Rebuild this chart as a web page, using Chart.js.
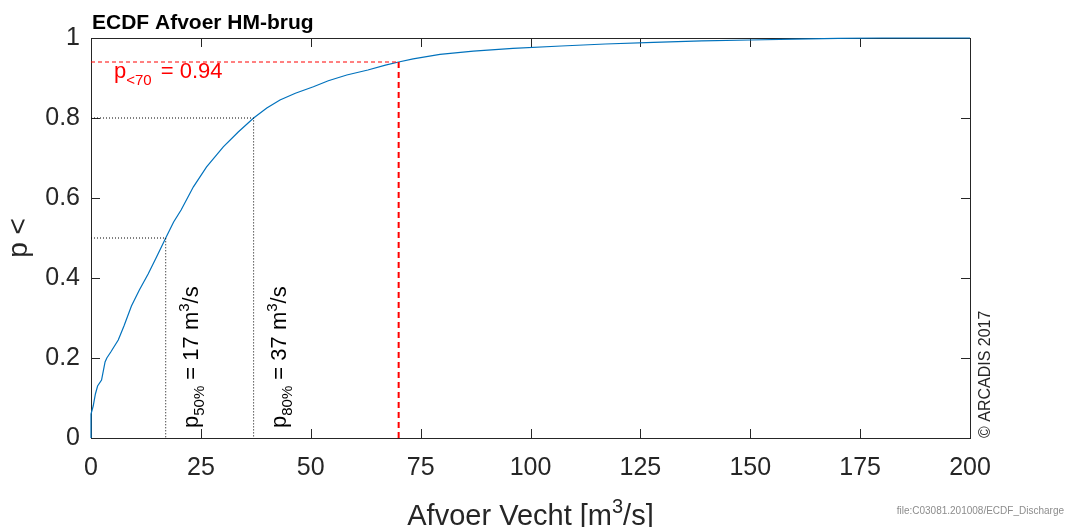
<!DOCTYPE html>
<html>
<head>
<meta charset="utf-8">
<title>ECDF Afvoer HM-brug</title>
<script src="https://cdn.jsdelivr.net/npm/chart.js@4.4.0/dist/chart.umd.min.js"></script>
<style>
  body { margin: 0; background: #fff; }
  #wrap { width: 1067px; height: 527px; position: relative; }
</style>
</head>
<body>
<div id="wrap"><canvas id="ecdf" width="1067" height="527"></canvas></div>
<script>
// ECDF of the Vecht discharge at HM-brug: discharge [m3/s] vs. P(Q < x)
const flowValues = [0, 0, 0.5, 1, 1.5, 2.4, 3.2, 3.6, 4.5, 6.2, 7.5, 9.2, 11, 13, 14.8, 17,
  18.8, 20.5, 23.3, 26.3, 30.1, 33.5, 37, 40, 43, 46.5, 50.6, 54, 58.2, 63, 67, 70,
  73.3, 79.4, 87, 96, 107, 117, 128, 139, 150, 160, 170, 180, 200];
const probValues = [0, 0.06, 0.08, 0.11, 0.13, 0.145, 0.19, 0.2, 0.215, 0.245, 0.28, 0.33, 0.37, 0.41, 0.45, 0.5,
  0.54, 0.57, 0.628, 0.678, 0.728, 0.765, 0.8, 0.825, 0.845, 0.862, 0.878, 0.893, 0.9075, 0.92, 0.932, 0.94,
  0.948, 0.959, 0.967, 0.974, 0.98, 0.985, 0.989, 0.993, 0.995, 0.997, 0.999, 1, 1];

// quantiles (dotted guides) and the 70 m3/s limit (red dashed)
const quantileNames = ['50%', '80%'];
const quantileProbs = [0.5, 0.8];
const quantileFlows = [17, 37];
const limitFlow = 70;
const limitProb = 0.94;

const xTickValues = [0, 25, 50, 75, 100, 125, 150, 175, 200];
const xTickLabels = ['0', '25', '50', '75', '100', '125', '150', '175', '200'];
const yTickValues = [0, 0.2, 0.4, 0.6, 0.8, 1];
const yTickLabels = ['0', '0.2', '0.4', '0.6', '0.8', '1'];

const FONT = '"Liberation Sans", Arial, Helvetica, sans-serif';
const AXIS_COLOR = '#262626';
const LINE_BLUE = '#0072BD';

// text with sub-/superscript pieces, drawn from the current origin along +x
function drawRich(ctx, parts, size) {
    let x = 0;
    parts.forEach(p => {
        const small = p.sub || p.sup;
        const s = small ? Math.round(size * 0.7) : size;
        ctx.font = s + 'px ' + FONT;
        const dy = p.sub ? size * 0.3 : (p.sup ? -size * 0.4 : 0);
        ctx.fillText(p.t, x + (p.dx || 0), dy);
        x += ctx.measureText(p.t).width + (p.dx || 0);
    });
    return x;
}

const pts = (xs, ys) => xs.map((x, i) => ({ x, y: ys[i] }));

const guideSets = quantileProbs.map((p, i) => ({
    data: [{ x: 0, y: p }, { x: quantileFlows[i], y: p }, { x: quantileFlows[i], y: 0 }],
    borderColor: '#000',
    borderWidth: 1,
    borderDash: [1, 2],
    pointRadius: 0,
    showLine: true,
    clip: 2
}));

const axesBox = {
    id: 'axesBox',
    beforeDatasetsDraw(chart) {
        const { ctx, chartArea: a } = chart;
        ctx.save();
        ctx.strokeStyle = AXIS_COLOR;
        ctx.lineWidth = 1;
        ctx.strokeRect(a.left + 0.5, a.top + 0.5, a.right - a.left, a.bottom - a.top);
        // inward ticks on all four sides
        const xs = chart.scales.x, ys = chart.scales.y;
        const len = 9;
        ctx.beginPath();
        xTickValues.forEach(v => {
            const px = Math.round(xs.getPixelForValue(v)) + 0.5;
            ctx.moveTo(px, a.bottom); ctx.lineTo(px, a.bottom - len);
            ctx.moveTo(px, a.top); ctx.lineTo(px, a.top + len);
        });
        yTickValues.forEach(v => {
            const py = Math.round(ys.getPixelForValue(v)) + 0.5;
            ctx.moveTo(a.left, py); ctx.lineTo(a.left + len, py);
            ctx.moveTo(a.right, py); ctx.lineTo(a.right - len, py);
        });
        ctx.stroke();
        ctx.restore();
    },
    afterDraw(chart) {
        const { ctx, chartArea: a } = chart;
        const xs = chart.scales.x;
        ctx.save();
        ctx.textBaseline = 'alphabetic';

        // title
        ctx.fillStyle = '#000';
        ctx.textAlign = 'left';
        ctx.font = 'bold 21px ' + FONT;
        ctx.fillText('ECDF Afvoer HM-brug', a.left + 1, 29);

        // axis titles
        ctx.fillStyle = AXIS_COLOR;
        const xt = [{ t: 'Afvoer Vecht [m' }, { t: '3', sup: true }, { t: '/s]' }];
        ctx.save();
        ctx.font = '29px ' + FONT;
        const w1 = ctx.measureText('Afvoer Vecht [m').width + ctx.measureText('/s]').width;
        ctx.font = '20px ' + FONT;
        const w2 = ctx.measureText('3').width;
        ctx.translate((a.left + a.right) / 2 - (w1 + w2) / 2, 525);
        drawRich(ctx, xt, 29);
        ctx.restore();

        ctx.save();
        ctx.translate(27, 238);
        ctx.rotate(-Math.PI / 2);
        ctx.textAlign = 'center';
        ctx.font = '28px ' + FONT;
        ctx.fillText('p <', 0, 0);
        ctx.restore();

        // limit label
        ctx.save();
        ctx.fillStyle = '#FF0000';
        ctx.translate(a.left + 23, 78);
        drawRich(ctx, [{ t: 'p' }, { t: '<' + limitFlow, sub: true },
            { t: ' = ' + limitProb.toFixed(2), dx: 3 }], 22);
        ctx.restore();

        // quantile labels, written upwards next to the guides
        ctx.fillStyle = '#000';
        quantileFlows.forEach((q, i) => {
            ctx.save();
            ctx.translate(xs.getPixelForValue(q) + 32, a.bottom - 10);
            ctx.rotate(-Math.PI / 2);
            drawRich(ctx, [{ t: 'p' }, { t: quantileNames[i], sub: true }, { t: ' = ' + q + ' m' },
                { t: '3', sup: true }, { t: '/s' }], 22);
            ctx.restore();
        });

        // credits
        ctx.save();
        ctx.fillStyle = AXIS_COLOR;
        ctx.translate(990, a.bottom);
        ctx.rotate(-Math.PI / 2);
        ctx.font = '16px ' + FONT;
        ctx.fillText('\u00A9 ARCADIS 2017', 0, 0);
        ctx.restore();

        ctx.fillStyle = '#8c8c8c';
        ctx.font = '10px ' + FONT;
        ctx.textAlign = 'right';
        ctx.fillText('file:C03081.201008/ECDF_Discharge', 1064, 514);
        ctx.restore();
    }
};

new Chart(document.getElementById('ecdf'), {
    type: 'scatter',
    data: {
        datasets: [
            ...guideSets,
            {
                data: [{ x: 0, y: limitProb }, { x: limitFlow, y: limitProb }],
                borderColor: '#FF0000',
                borderWidth: 1,
                borderDash: [4, 3],
                pointRadius: 0,
                showLine: true,
                clip: 2
            },
            {
                data: [{ x: limitFlow, y: limitProb }, { x: limitFlow, y: 0 }],
                borderColor: '#FF0000',
                borderWidth: 2,
                borderDash: [6, 4],
                pointRadius: 0,
                showLine: true,
                clip: 2
            },
            {
                data: pts(flowValues, probValues),
                borderColor: LINE_BLUE,
                borderWidth: 1.2,
                pointRadius: 0,
                showLine: true,
                tension: 0,
                clip: 3
            }
        ]
    },
    options: {
        responsive: false,
        animation: false,
        events: [],
        layout: { padding: { left: 0, top: 38, right: 97, bottom: 0 } },
        plugins: { legend: { display: false }, tooltip: { enabled: false } },
        scales: {
            x: {
                type: 'linear',
                min: 0, max: 200,
                afterBuildTicks: s => { s.ticks = xTickValues.map(v => ({ value: v })); },
                afterFit: s => { s.height = 89; },
                grid: { display: false, drawTicks: false },
                border: { display: false },
                ticks: {
                    color: AXIS_COLOR,
                    font: { family: FONT, size: 25 },
                    padding: 15,
                    maxRotation: 0,
                    callback: (v) => xTickLabels[xTickValues.indexOf(v)]
                }
            },
            y: {
                type: 'linear',
                min: 0, max: 1,
                afterBuildTicks: s => { s.ticks = yTickValues.map(v => ({ value: v })); },
                afterFit: s => { s.width = 91; },
                grid: { display: false, drawTicks: false },
                border: { display: false },
                ticks: {
                    color: AXIS_COLOR,
                    font: { family: FONT, size: 25 },
                    padding: 11,
                    callback: (v) => yTickLabels[yTickValues.indexOf(v)]
                }
            }
        }
    },
    plugins: [axesBox]
});
</script>
</body>
</html>
